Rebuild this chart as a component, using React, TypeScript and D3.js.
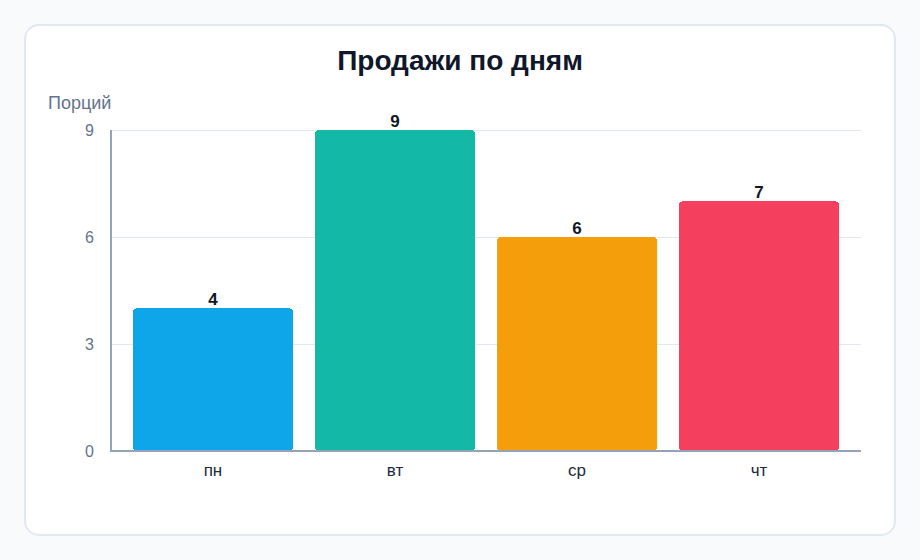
import React, { useEffect, useRef } from 'react';
import * as d3 from 'd3';

const days = ['пн', 'вт', 'ср', 'чт'];
const portions = [4, 9, 6, 7];
const barColors = ['#0ea5e9', '#14b8a6', '#f59e0b', '#f43f5e'];
const yTicks = [0, 3, 6, 9];

const W = 920;
const H = 560;
const FONT = '"Liberation Sans", Arial, sans-serif';

const App: React.FC = () => {
  const svgRef = useRef<SVGSVGElement>(null);

  useEffect(() => {
    if (!svgRef.current) return;
    const svg = d3.select(svgRef.current);
    svg.selectAll('*').remove();

    const margin = { left: 111, right: 59, top: 130, bottom: 109 };
    const x = d3.scaleBand<string>()
      .domain(days)
      .range([margin.left, W - margin.right])
      .padding(0.12);
    const y = d3.scaleLinear().domain([0, 9]).range([H - margin.bottom, margin.top]);

    svg.append('rect').attr('width', W).attr('height', H).attr('fill', '#f8fafc');
    svg.append('rect')
      .attr('x', 25).attr('y', 25).attr('width', 870).attr('height', 510)
      .attr('rx', 14).attr('fill', '#ffffff')
      .attr('stroke', '#e2e8f0').attr('stroke-width', 2);

    svg.append('text')
      .attr('x', W / 2).attr('y', 70)
      .attr('text-anchor', 'middle')
      .attr('font-family', FONT).attr('font-size', 28).attr('font-weight', 700)
      .attr('fill', '#0f172a')
      .text('Продажи по дням');

    svg.append('text')
      .attr('x', 48).attr('y', 109)
      .attr('font-family', FONT).attr('font-size', 18)
      .attr('fill', '#64748b')
      .text('Порций');

    // grid
    svg.append('g')
      .selectAll('line')
      .data(yTicks.filter(t => t > 0))
      .join('line')
      .attr('x1', margin.left).attr('x2', W - margin.right)
      .attr('y1', d => y(d)).attr('y2', d => y(d))
      .attr('stroke', '#e2e8f0').attr('stroke-width', 1)
      .attr('shape-rendering', 'crispEdges');

    svg.append('g')
      .selectAll('text')
      .data(yTicks)
      .join('text')
      .attr('x', 94).attr('y', d => y(d) + 6)
      .attr('text-anchor', 'end')
      .attr('font-family', FONT).attr('font-size', 16)
      .attr('fill', '#64748b')
      .text(d => d);

    // bars
    svg.append('g')
      .selectAll('rect')
      .data(portions)
      .join('rect')
      .attr('x', (_, i) => x(days[i])!)
      .attr('y', d => y(d))
      .attr('width', x.bandwidth())
      .attr('height', d => y(0) - y(d))
      .attr('rx', 4)
      .attr('fill', (_, i) => barColors[i])
      .attr('shape-rendering', 'crispEdges');

    svg.append('g')
      .selectAll('text')
      .data(portions)
      .join('text')
      .attr('x', (_, i) => x(days[i])! + x.bandwidth() / 2)
      .attr('y', d => y(d) - 3)
      .attr('text-anchor', 'middle')
      .attr('font-family', FONT).attr('font-size', 17).attr('font-weight', 700)
      .attr('fill', '#0f172a')
      .text(d => d);

    // axes
    svg.append('line')
      .attr('x1', margin.left).attr('x2', margin.left)
      .attr('y1', y(9)).attr('y2', y(0) + 1)
      .attr('stroke', '#94a3b8').attr('stroke-width', 2);
    svg.append('line')
      .attr('x1', margin.left - 1).attr('x2', W - margin.right)
      .attr('y1', y(0)).attr('y2', y(0))
      .attr('stroke', '#94a3b8').attr('stroke-width', 2);

    svg.append('g')
      .selectAll('text')
      .data(days)
      .join('text')
      .attr('x', d => x(d)! + x.bandwidth() / 2)
      .attr('y', y(0) + 25)
      .attr('text-anchor', 'middle')
      .attr('font-family', FONT).attr('font-size', 17)
      .attr('fill', '#1e293b')
      .text(d => d);
  }, []);

  return (
    <svg
      ref={svgRef}
      width={W}
      height={H}
      style={{ position: 'absolute', left: 0, top: 0, display: 'block' }}
    />
  );
};

export default App;
